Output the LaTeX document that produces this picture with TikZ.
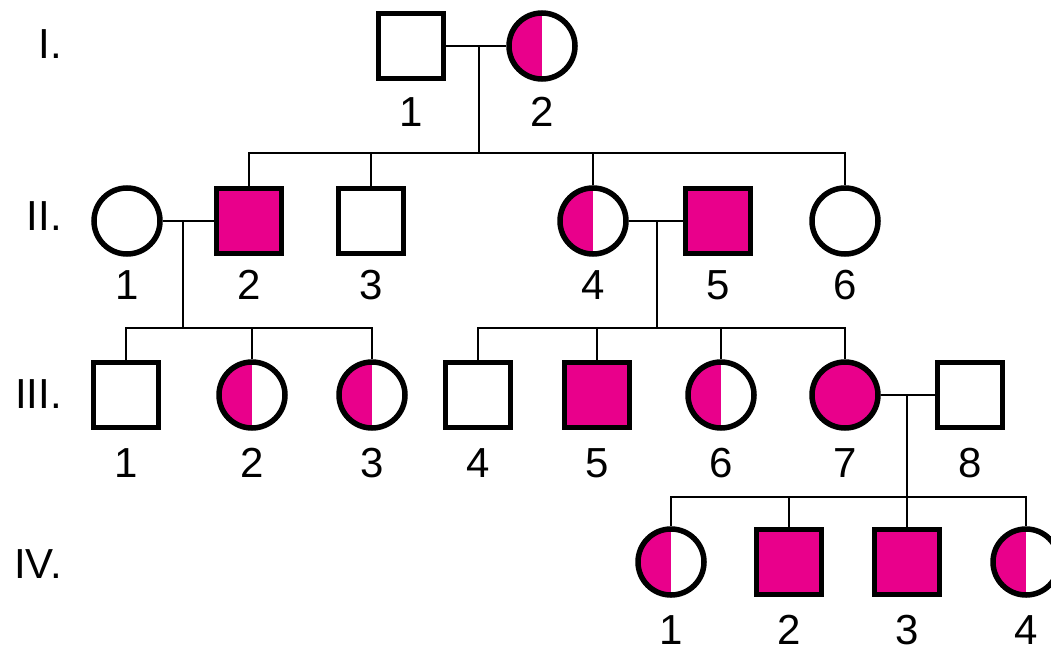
\documentclass[tikz,border=0pt]{standalone}
\usepackage{fontspec}
\setmainfont{Liberation Sans}
\definecolor{affpink}{RGB}{233,0,139}
\tikzset{
  male/.style={draw, rectangle, line width=5.5pt, minimum size=65pt, inner sep=0pt},
  female/.style={draw, circle, line width=5.5pt, minimum size=66pt, inner sep=0pt},
  affected/.style={fill=affpink},
  carrier/.style={path picture={\fill[affpink] (path picture bounding box.south west) rectangle (path picture bounding box.north);}},
  link/.style={line width=2.5pt},
  num/.style={font=\fontsize{42}{48}\selectfont, inner sep=0pt}
}
\begin{document}
\begin{tikzpicture}[x=1pt, y=-1pt]
\useasboundingbox (0,0) rectangle (1051,653);
    %generation numbers
\node[num, anchor=east] (genI) at (62,44) {I.};
\node[num, anchor=east] (genII) at (62,216) {II.};
\node[num, anchor=east] (genIII) at (62,394) {III.};
\node[num, anchor=east] (genIV) at (62,564) {IV.};

    %%%%%%%%%%%%%%%%%%%%%%%%%%%%%%%%%%%
    %%%Generation I
    %%%%%%%%%%%%%%%%%%%%%%%%%%%%%%%%%%%
\node[male] (I1) at (411,46) {};
\node[female, carrier] (I2) at (542,46) {};
\foreach \p/\n in {I1/1, I2/2}
    \node[num] (\p-lab) at ([yshift=-66pt]\p) {\n};

    %%%%%%%%%%%%%%%%%%%%%%%%%%%%%%%%%%%
    %%%Generation II
    %%%%%%%%%%%%%%%%%%%%%%%%%%%%%%%%%%%
\node[female] (II1) at (127,221) {};
\node[male, affected] (II2) at (249,221) {};
\node[male] (II3) at (371,221) {};
\node[female, carrier] (II4) at (593,221) {};
\node[male, affected] (II5) at (718,221) {};
\node[female] (II6) at (845,221) {};
\foreach \p/\n in {II1/1, II2/2, II3/3, II4/4, II5/5, II6/6}
    \node[num] (\p-lab) at ([yshift=-64pt]\p) {\n};

    %%%%%%%%%%%%%%%%%%%%%%%%%%%%%%%%%%%
    %%%Generation III
    %%%%%%%%%%%%%%%%%%%%%%%%%%%%%%%%%%%
\node[male] (III1) at (126,395) {};
\node[female, carrier] (III2) at (252,395) {};
\node[female, carrier] (III3) at (372,395) {};
\node[male] (III4) at (478,395) {};
\node[male, affected] (III5) at (597,395) {};
\node[female, carrier] (III6) at (721,395) {};
\node[female, affected] (III7) at (845,395) {};
\node[male] (III8) at (970,395) {};
\foreach \p/\n in {III1/1, III2/2, III3/3, III4/4, III5/5, III6/6, III7/7, III8/8}
    \node[num] (\p-lab) at ([yshift=-68pt]\p) {\n};

    %%%%%%%%%%%%%%%%%%%%%%%%%%%%%%%%%%%
    %%%Generation IV
    %%%%%%%%%%%%%%%%%%%%%%%%%%%%%%%%%%%
\node[female, carrier] (IV1) at (671,562) {};
\node[male, affected] (IV2) at (789,562) {};
\node[male, affected] (IV3) at (907,562) {};
\node[female, carrier] (IV4) at (1026,562) {};
\foreach \p/\n in {IV1/1, IV2/2, IV3/3, IV4/4}
    \node[num] (\p-lab) at ([yshift=-68pt]\p) {\n};

    %%%%%%%%%%%%%%%%%%%%%%%%%%%%%%%%%%%
    %%%Marriages and offspring
    %%%%%%%%%%%%%%%%%%%%%%%%%%%%%%%%%%%
    %draw couple I1 - I2
\coordinate (mI) at (479,46);
\coordinate (sI) at (479,153);
\draw[link] (I1) -- (I2);
\draw[link] (mI) -- (sI);
\draw[link] (II2.north) |- (sI) -| (II6.north);
\foreach \c in {II3, II4}
    \draw[link] (\c.north) -- (\c |- sI);
    %draw couple II1 - II2
\coordinate (mII) at (183,221);
\coordinate (sII) at (183,328);
\draw[link] (II1) -- (II2);
\draw[link] (mII) -- (sII);
\draw[link] (III1.north) |- (sII) -| (III3.north);
\draw[link] (III2.north) -- (III2 |- sII);
    %draw couple II4 - II5
\coordinate (mIIb) at (657,221);
\coordinate (sIIb) at (657,328);
\draw[link] (II4) -- (II5);
\draw[link] (mIIb) -- (sIIb);
\draw[link] (III4.north) |- (sIIb) -| (III7.north);
\foreach \c in {III5, III6}
    \draw[link] (\c.north) -- (\c |- sIIb);
    %draw couple III7 - III8
\coordinate (mIII) at (907,395);
\coordinate (sIII) at (907,497);
\draw[link] (III7) -- (III8);
\draw[link] (mIII) -- (sIII);
\draw[link] (IV1.north) |- (sIII) -| (IV4.north);
\foreach \c in {IV2, IV3}
    \draw[link] (\c.north) -- (\c |- sIII);
\end{tikzpicture}
\end{document}
